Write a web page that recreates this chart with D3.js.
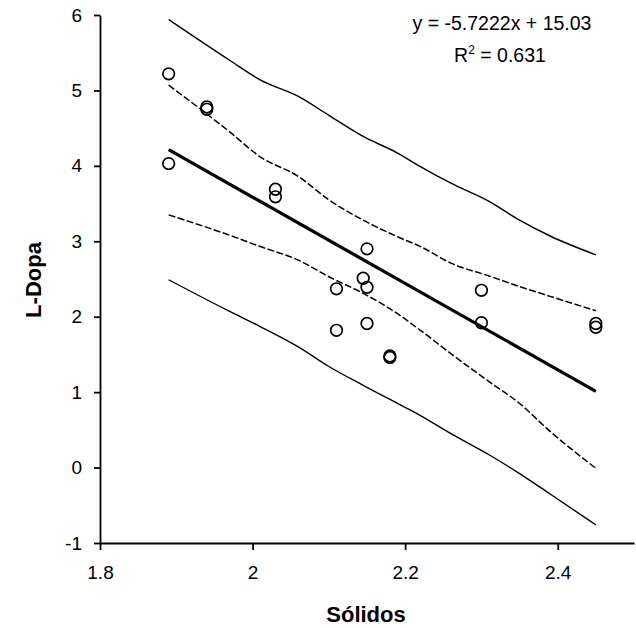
<!DOCTYPE html>
<html>
<head>
<meta charset="utf-8">
<script src="https://cdn.jsdelivr.net/npm/d3@7"></script>
<style>
	body { margin: 0; background: #fff; }
	svg { display: block; font-family: 'Liberation Sans', Arial, sans-serif; }
	.axis path, .axis line { stroke: #000; stroke-width: 1.8; }
	.axis text { font-size: 19px; fill: #000; }
	.title { font-size: 22px; font-weight: bold; }
	.eq { font-size: 19.5px; }
</style>
</head>
<body>
<script>
// points
const solidos = [1.89, 1.94, 1.94, 1.89, 2.03, 2.03, 2.15, 2.145, 2.15, 2.11, 2.15, 2.11, 2.18, 2.18, 2.30, 2.30, 2.45, 2.45];
const l_dopa = [5.22, 4.78, 4.75, 4.03, 3.69, 3.59, 2.90, 2.51, 2.39, 2.37, 1.91, 1.82, 1.48, 1.46, 2.35, 1.92, 1.91, 1.86];

// fitted line (from the equation on the chart)
const fit_slope = -5.7222;
const fit_intercept = 15.03;
const fit_x = [1.89, 2.45];

// bands, read at these x positions
const band_x = [1.89, 1.97, 2.01, 2.06, 2.10, 2.145, 2.19, 2.22, 2.26, 2.31, 2.35, 2.39, 2.45];
const pred_upper = [5.94, 5.40, 5.14, 4.92, 4.67, 4.39, 4.17, 3.99, 3.77, 3.53, 3.28, 3.07, 2.82];
const conf_upper = [5.07, 4.45, 4.12, 3.86, 3.55, 3.28, 3.06, 2.93, 2.71, 2.54, 2.40, 2.27, 2.08];
const conf_lower = [3.35, 3.08, 2.93, 2.75, 2.53, 2.31, 2.04, 1.82, 1.51, 1.14, 0.85, 0.48, -0.01];
const pred_lower = [2.49, 2.07, 1.87, 1.60, 1.34, 1.09, 0.85, 0.69, 0.45, 0.17, -0.08, -0.35, -0.76];

const x_ticks = [1.8, 2, 2.2, 2.4];
const y_ticks = [-1, 0, 1, 2, 3, 4, 5, 6];

const width = 636, height = 628;

const xscale = d3.scaleLinear().domain([1.8, 2.5]).range([100, 634]);
const yscale = d3.scaleLinear().domain([-1, 6]).range([543, 15]);

const svg = d3.select('body').append('svg')
	.attr('width', width)
	.attr('height', height);

const gx = svg.append('g')
	.attr('class', 'axis')
	.attr('transform', `translate(${[0, yscale(-1)]})`)
	.call(d3.axisBottom(xscale).tickValues(x_ticks).tickFormat(d => String(d)).tickSize(7).tickPadding(16).tickSizeOuter(0));
const gy = svg.append('g')
	.attr('class', 'axis')
	.attr('transform', `translate(${[xscale(1.8), 0]})`)
	.call(d3.axisLeft(yscale).tickValues(y_ticks).tickFormat(d => String(d)).tickSize(6).tickPadding(12).tickSizeOuter(0));

const line = d3.line()
	.x(d => xscale(d[0]))
	.y(d => yscale(d[1]))
	.curve(d3.curveMonotoneX);

const bands = [
	{ key: 'pred-upper', values: pred_upper, dash: null, w: 1.4 },
	{ key: 'conf-upper', values: conf_upper, dash: '7,2.5', w: 1.5 },
	{ key: 'conf-lower', values: conf_lower, dash: '7,2.5', w: 1.5 },
	{ key: 'pred-lower', values: pred_lower, dash: null, w: 1.4 },
];

svg.selectAll('path.band')
	.data(bands)
	.join('path')
	.attr('class', d => `band ${d.key}`)
	.attr('d', d => line(band_x.map((x, i) => [x, d.values[i]])))
	.attr('fill', 'none')
	.attr('stroke', '#000')
	.attr('stroke-width', d => d.w)
	.attr('stroke-dasharray', d => d.dash);

svg.append('path')
	.attr('class', 'trend')
	.attr('d', line(fit_x.map(x => [x, fit_slope * x + fit_intercept])))
	.attr('fill', 'none')
	.attr('stroke', '#000')
	.attr('stroke-width', 3.2);

svg.selectAll('circle.point-value')
	.data(solidos.map((x, i) => ({ x, y: l_dopa[i] })))
	.join('circle')
	.attr('class', 'point-value')
	.attr('cx', d => xscale(d.x))
	.attr('cy', d => yscale(d.y))
	.attr('r', 5.8)
	.attr('fill', 'none')
	.attr('stroke', '#000')
	.attr('stroke-width', 1.7);

// equation
svg.append('text')
	.attr('class', 'eq')
	.attr('x', 502)
	.attr('y', 30)
	.attr('text-anchor', 'middle')
	.text('y = -5.7222x + 15.03');
const r2 = svg.append('text')
	.attr('class', 'eq')
	.attr('x', 500)
	.attr('y', 62)
	.attr('text-anchor', 'middle');
r2.append('tspan').text('R');
r2.append('tspan').attr('dy', -8).attr('font-size', 12).text('2');
r2.append('tspan').attr('dy', 8).text(' = 0.631');

// axis titles
svg.append('text')
	.attr('class', 'title')
	.attr('x', 366)
	.attr('y', 622)
	.attr('text-anchor', 'middle')
	.text('Sólidos');
svg.append('text')
	.attr('class', 'title')
	.attr('transform', `translate(${[41, 280]}) rotate(-90)`)
	.attr('text-anchor', 'middle')
	.text('L-Dopa');
</script>
</body>
</html>
